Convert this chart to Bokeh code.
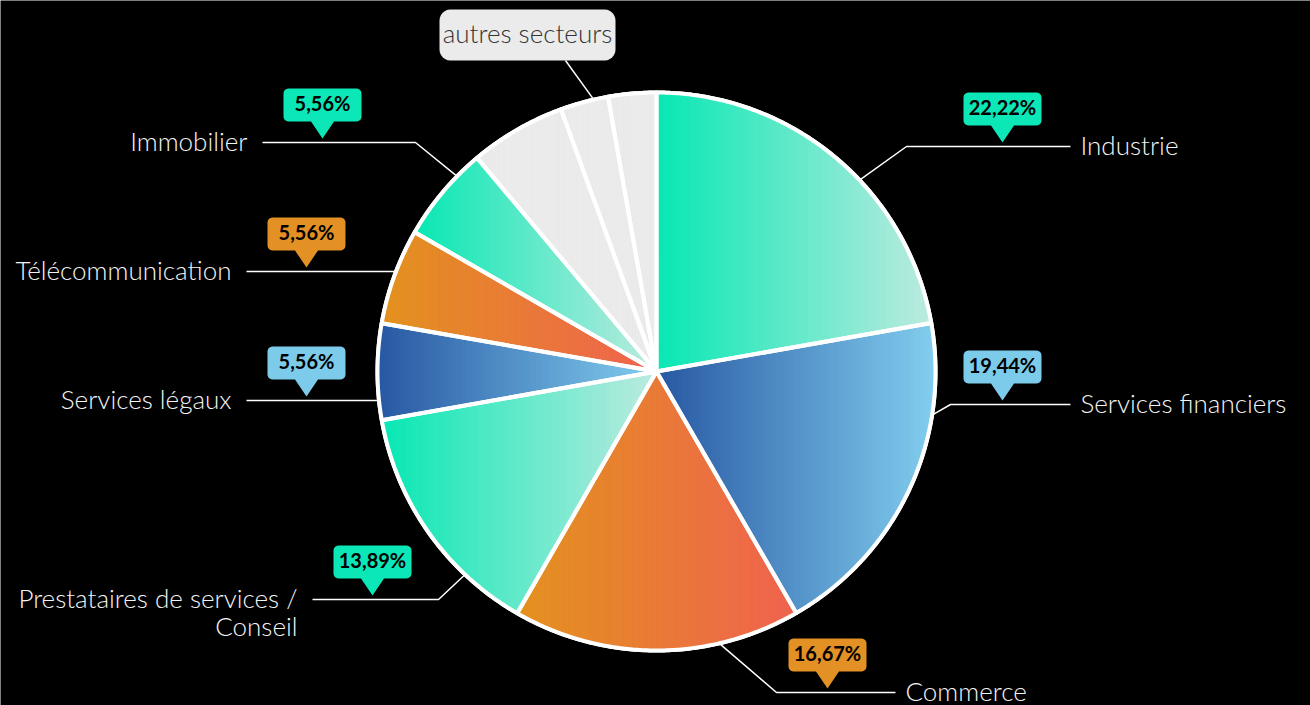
import math
import numpy as np
from bokeh.plotting import figure
from bokeh.models import Range1d
from bokeh.core.properties import value
from bokeh.embed import file_html
from bokeh.resources import INLINE

# ---------------- data ----------------
categories = ["Industrie", "Services financiers", "Commerce",
              "Prestataires de services / Conseil", "Services légaux",
              "Télécommunication", "Immobilier",
              "autres secteurs", "autres secteurs", "autres secteurs"]
shares = [22.22, 19.44, 16.67, 13.89, 5.56, 5.56, 5.56, 5.56, 2.78, 2.78]
groups = ["teal", "blue", "orange", "teal", "blue", "orange", "teal",
          "grey", "grey", "grey"]
other_label = "autres secteurs"

# ---------------- styles ----------------
GRAD = {
    "teal": ("#08E8B4", "#BDEBE0"),
    "blue": ("#2858A3", "#82CEEF"),
    "orange": ("#E3921F", "#F0634F"),
    "grey": ("#EBEBEB", "#EBEBEB"),
}
BADGE = {"teal": "#0BE7B6", "blue": "#7DCBEB", "orange": "#E39024"}

# ---------------- layout (pixels) ----------------
CX, CY, R = 656, 371, 279
label_line_y = [146, 404, 692, 599, 400, 271, 142]
label_end_x = [1070, 1070, 895, 312, 246, 246, 262]
crook_x = [906, 950, 776, 438, None, None, 415]
touch_deg = [46.7, 99.0, 167.0, 223.3, 264.0, 290.7, 314.4]
other_touch_deg = 347.0
other_box = (439, 9, 615, 60)   # left, top, right, bottom
other_line_end = (565, 60)

W, H = 1310, 705
p = figure(width=W, height=H, x_range=Range1d(0, W), y_range=Range1d(H, 0),
           x_axis_type=None, y_axis_type=None, toolbar_location=None,
           output_backend="svg", min_border=0)
p.background_fill_color = "black"
p.border_fill_color = "black"
p.outline_line_color = None
p.grid.visible = False


def hex2rgb(h):
    h = h.lstrip("#")
    return tuple(int(h[i:i + 2], 16) for i in (0, 2, 4))


def lerp_col(c0, c1, t):
    a, b = hex2rgb(c0), hex2rgb(c1)
    return "#%02x%02x%02x" % tuple(int(round(a[i] + (b[i] - a[i]) * t)) for i in range(3))


def pt(deg, r=R):
    th = math.radians(deg)
    return CX + r * math.sin(th), CY - r * math.cos(th)


def wedge_pts(a0, a1, r=R):
    n = max(2, int(abs(a1 - a0) / 0.5) + 1)
    pts = [(CX, CY)]
    for d in np.linspace(a0, a1, n):
        pts.append(pt(d, r))
    return pts


def clip_x(pts, xc, keep_ge):
    out = []
    n = len(pts)
    for i in range(n):
        cur, prev = pts[i], pts[i - 1]
        cin = cur[0] >= xc if keep_ge else cur[0] <= xc
        pin = prev[0] >= xc if keep_ge else prev[0] <= xc
        if cin:
            if not pin:
                t = (xc - prev[0]) / (cur[0] - prev[0])
                out.append((xc, prev[1] + t * (cur[1] - prev[1])))
            out.append(cur)
        elif pin:
            t = (xc - prev[0]) / (cur[0] - prev[0])
            out.append((xc, prev[1] + t * (cur[1] - prev[1])))
    return out


total = sum(shares)
starts, ends = [], []
acc = 0.0
for s in shares:
    starts.append(acc / total * 360)
    acc += s
    ends.append(acc / total * 360)

# gradient strips
sx, sy, sc = [], [], []
for a0, a1, g in zip(starts, ends, groups):
    poly = wedge_pts(a0, a1)
    xmin = min(q[0] for q in poly)
    xmax = max(q[0] for q in poly)
    c0, c1 = GRAD[g]
    n = max(6, int((xmax - xmin) / 3))
    w = (xmax - xmin) / n
    for i in range(n):
        xa = xmin + i * w
        xb = xa + w + 0.7
        part = clip_x(clip_x(poly, xa, True), xb, False)
        if len(part) < 3:
            continue
        col = lerp_col(c0, c1, (i + 0.5) / n)
        sx.append([q[0] for q in part])
        sy.append([q[1] for q in part])
        sc.append(col)
p.patches(sx, sy, fill_color=sc, line_color=sc, line_width=0.6)

# white slice borders
bx, by = [], []
for a0, a1 in zip(starts, ends):
    poly = wedge_pts(a0, a1)
    bx.append([q[0] for q in poly])
    by.append([q[1] for q in poly])
p.patches(bx, by, fill_color=None, line_color="white", line_width=4, line_join="round")
ring = wedge_pts(0, 360, R + 0.5)[1:]
p.line([q[0] for q in ring], [q[1] for q in ring], line_color="white", line_width=3)

# connectors
cx_l, cy_l = [], []
for i in range(7):
    tx, ty = pt(touch_deg[i])
    yl = label_line_y[i]
    kx = crook_x[i] if crook_x[i] is not None else tx
    cx_l.append([label_end_x[i], kx, tx])
    cy_l.append([yl, yl, ty])
ox, oy = pt(other_touch_deg)
cx_l.append([other_line_end[0], ox])
cy_l.append([other_line_end[1], oy])
p.multi_line(cx_l, cy_l, line_color="white", line_width=1.5)


# rounded rect helper
def rounded_rect(l, t, r_, b, rad, pointer=None):
    pts = []
    def arc(cx, cy, d0, d1):
        for d in np.linspace(d0, d1, 7):
            th = math.radians(d)
            pts.append((cx + rad * math.cos(th), cy + rad * math.sin(th)))
    arc(l + rad, t + rad, 180, 270)       # top-left
    arc(r_ - rad, t + rad, 270, 360)      # top-right
    arc(r_ - rad, b - rad, 0, 90)         # bottom-right
    if pointer is not None:
        px, ph, pw = pointer
        pts.append((px + pw / 2, b))
        pts.append((px, b + ph))
        pts.append((px - pw / 2, b))
    arc(l + rad, b - rad, 90, 180)        # bottom-left
    return pts


# percentage badges
BW, BH, PH, PW = 78, 33, 17, 23
gx, gy, gc, tx_, ty_, tt = [], [], [], [], [], []
for i in range(7):
    yl = label_line_y[i]
    right_side = label_end_x[i] > CX
    bxc = label_end_x[i] - 68 if right_side else label_end_x[i] + 60
    tip = yl - 4
    bot = tip - PH
    top = bot - BH
    pts = rounded_rect(bxc - BW / 2, top, bxc + BW / 2, bot, 5, pointer=(bxc, PH, PW))
    gx.append([q[0] for q in pts])
    gy.append([q[1] for q in pts])
    gc.append(BADGE[groups[i]])
    tx_.append(bxc)
    ty_.append((top + bot) / 2 - 2)
    tt.append(("%.2f" % shares[i]).replace(".", ",") + "%")
p.patches(gx, gy, fill_color=gc, line_color=None)
p.text(tx_, ty_, text=tt, text_font=value("Lato"), text_font_style="bold",
       text_font_size="20px", text_color="black", text_align="center",
       text_baseline="middle")


# category labels
def wrap(s, width=26):
    lines, cur = [], ""
    for wd in s.split(" "):
        cand = (cur + " " + wd).strip()
        if len(cand) > width and cur:
            lines.append(cur)
            cur = wd
        else:
            cur = cand
    lines.append(cur)
    return lines


lx, ly, lt, la = [], [], [], []
for i in range(7):
    right_side = label_end_x[i] > CX
    for k, line in enumerate(wrap(categories[i])):
        lx.append(label_end_x[i] + 10 if right_side else label_end_x[i] - 15)
        ly.append(label_line_y[i] - 2 + 28 * k)
        lt.append(line)
        la.append("left" if right_side else "right")
p.text(lx, ly, text=lt, text_align=la, text_font=value("Lato Light"),
       text_font_size="26px", text_color="#F4F4F4", text_baseline="alphabetic")

# "autres secteurs" callout
l, t, r_, b = other_box
pts = rounded_rect(l, t, r_, b, 11)
p.patch([q[0] for q in pts], [q[1] for q in pts], fill_color="#EBEBEB", line_color=None)
p.text([(l + r_) / 2], [(t + b) / 2 - 2], text=[other_label], text_align="center",
       text_baseline="middle", text_font=value("Lato Light"), text_font_size="26px",
       text_color="#333333")

open("out.html", "w").write(file_html(p, INLINE))
